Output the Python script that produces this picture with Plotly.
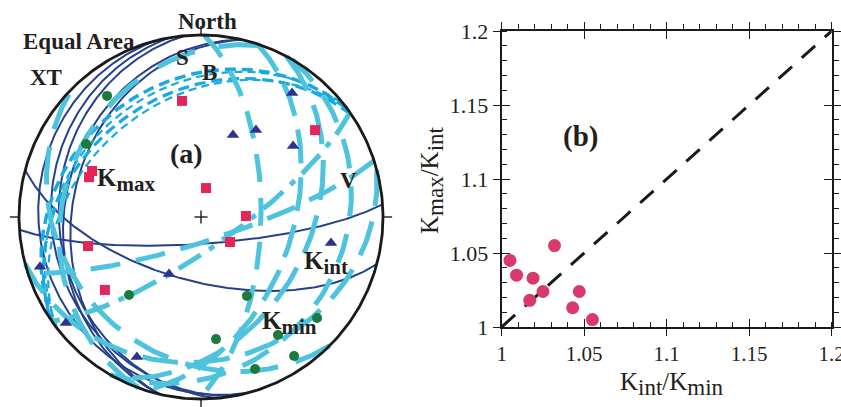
import numpy as np
import plotly.graph_objects as go

# ---------------- data ----------------
# (a) AMS principal axes, lower-hemisphere equal-area (trend, plunge in degrees)
kmax_trend = [350.7, 52.7, 292.9, 289.6, 9.8, 88.7, 130.8, 255.6, 232.8]
kmax_plunge = [35.6, 22.3, 35.3, 35.0, 76.9, 69.9, 72.9, 36.1, 34.1]
kint_trend = [36.3, 21.3, 32.3, 52.4, 101.3, 209.3, 252.8, 231.9, 204.6]
kint_plunge = [16.6, 50.0, 42.9, 36.3, 28.0, 60.6, 8.2, 6.3, 16.5]
kmin_trend = [322.2, 302.4, 222.7, 149.8, 131.0, 146.9, 173.0, 146.2, 160.4]
kmin_plunge = [16.9, 26.1, 41.3, 48.4, 16.6, 23.6, 32.9, 8.9, 12.4]

# planes (strike, dip; right-hand rule)
s_strike = [193, 193, 165, 170, 175, 86, 105]
s_dip = [26, 30, 12, 19, 23, 78, 61]
b_strike = [234, 232, 236, 233]
b_dip = [26, 29, 32, 35]
b_width = [3.5, 2.2, 3.2, 2.2]
v_strike = [1, 18, 28, 30, 72, 55, 135, 200, 75]
v_dip = [63, 48, 40, 22, 79, 76, 25, 25, 22]
v_dash = ["28px,16px", "34px,14px", "40px,16px", "30px,18px", "30px,16px",
          "26px,10px,6px,10px", "38px,18px", "40px,24px", "36px,16px"]

# (b) anisotropy ratios
lineation = [1.005, 1.009, 1.019, 1.017, 1.025, 1.032, 1.043, 1.047, 1.055]   # Kint/Kmin
foliation_y = [1.045, 1.035, 1.033, 1.018, 1.024, 1.055, 1.013, 1.024, 1.005]  # Kmax/Kint
ticks_b = [1, 1.05, 1.1, 1.15, 1.2]
cardinal = [0, 90, 180, 270]

# ---------------- helpers ----------------
def proj(trend, plunge):
    t = np.radians(np.asarray(trend, float))
    p = np.radians(np.asarray(plunge, float))
    e = np.cos(p) * np.sin(t)
    n = np.cos(p) * np.cos(t)
    d = np.sin(p)
    k = 1 / np.sqrt(1 + d)
    return e * k, n * k

def great_circle(strike, dip, n=240):
    s = np.radians(strike)
    dd = s + np.pi / 2
    dp = np.radians(dip)
    t = np.linspace(0, np.pi, n)
    e = np.cos(t) * np.sin(s) + np.sin(t) * np.sin(dd) * np.cos(dp)
    nn = np.cos(t) * np.cos(s) + np.sin(t) * np.cos(dd) * np.cos(dp)
    d = np.sin(t) * np.sin(dp)
    k = 1 / np.sqrt(1 + d)
    return e * k, nn * k

W, H = 841, 407
def P(px, py):
    return px / W, 1 - py / H

FONT = "Liberation Serif, Times New Roman, serif"
navy = "#25418B"
light = "#19A9E1"
cyan = "#4DC3DD"
red = "#E5245A"
tri = "#2E3192"
green = "#1B7B3E"
pink = "#D93A6C"
ink = "#1A1A1A"

fig = go.Figure()

# ---------------- (a) stereonet ----------------
for st, dp in zip(s_strike, s_dip):
    x, y = great_circle(st, dp)
    fig.add_trace(go.Scatter(x=x, y=y, mode="lines", line=dict(color=navy, width=2),
                             hoverinfo="skip", showlegend=False, xaxis="x", yaxis="y"))
for st, dp, w in zip(b_strike, b_dip, b_width):
    x, y = great_circle(st, dp)
    fig.add_trace(go.Scatter(x=x, y=y, mode="lines",
                             line=dict(color=light, width=w, dash="11px,6px" if w > 3 else "8px,5px"),
                             hoverinfo="skip", showlegend=False, xaxis="x", yaxis="y"))
for st, dp, ds in zip(v_strike, v_dip, v_dash):
    x, y = great_circle(st, dp)
    fig.add_trace(go.Scatter(x=x, y=y, mode="lines", line=dict(color=cyan, width=5, dash=ds),
                             hoverinfo="skip", showlegend=False, xaxis="x", yaxis="y"))

# primitive circle
az = np.linspace(0, 360, 361)
px_, py_ = proj(az, np.zeros_like(az))
fig.add_trace(go.Scatter(x=px_, y=py_, mode="lines", line=dict(color=ink, width=2.8),
                         hoverinfo="skip", showlegend=False, xaxis="x", yaxis="y"))
# cardinal ticks
for a in cardinal:
    ex, ny = proj([a], [0])
    fig.add_trace(go.Scatter(x=[ex[0], ex[0] * 1.05], y=[ny[0], ny[0] * 1.05], mode="lines",
                             line=dict(color=ink, width=1.4), hoverinfo="skip",
                             showlegend=False, xaxis="x", yaxis="y"))
# centre cross
fig.add_trace(go.Scatter(x=[-0.036, 0.036, None, 0, 0], y=[0, 0, None, -0.036, 0.036],
                         mode="lines", line=dict(color=ink, width=1.4), hoverinfo="skip",
                         showlegend=False, xaxis="x", yaxis="y"))

# principal axes
x, y = proj(kmin_trend, kmin_plunge)
fig.add_trace(go.Scatter(x=x, y=y, mode="markers",
                         marker=dict(symbol="circle", size=10, color=green),
                         showlegend=False, xaxis="x", yaxis="y"))
x, y = proj(kint_trend, kint_plunge)
fig.add_trace(go.Scatter(x=x, y=y, mode="markers",
                         marker=dict(symbol="triangle-up", size=11, color=tri),
                         showlegend=False, xaxis="x", yaxis="y"))
x, y = proj(kmax_trend, kmax_plunge)
fig.add_trace(go.Scatter(x=x, y=y, mode="markers",
                         marker=dict(symbol="square", size=10, color=red),
                         showlegend=False, xaxis="x", yaxis="y"))

# ---------------- (b) scatter ----------------
fig.add_trace(go.Scatter(x=[ticks_b[0], ticks_b[-1]], y=[ticks_b[0], ticks_b[-1]], mode="lines",
                         line=dict(color=ink, width=3, dash="18px,13px"),
                         hoverinfo="skip", showlegend=False, xaxis="x2", yaxis="y2"))
fig.add_trace(go.Scatter(x=lineation, y=foliation_y, mode="markers",
                         marker=dict(size=13, color=pink), showlegend=False,
                         xaxis="x2", yaxis="y2"))
# invisible traces so that the overlay (frame/tick) axes are drawn
for xa, ya in [("x3", "y2"), ("x4", "y2"), ("x5", "y2"), ("x2", "y3"), ("x2", "y4"), ("x2", "y5")]:
    fig.add_trace(go.Scatter(x=[lineation[0]], y=[foliation_y[0]], mode="markers",
                             marker=dict(size=1, opacity=0), showlegend=False,
                             hoverinfo="skip", xaxis=xa, yaxis=ya))

xd = [501.7 / W, 831.7 / W]
yd = [80 / H, 376 / H]
tfx = dict(family=FONT, size=21, color="#231F20")
tfy = dict(family=FONT, size=22, color="#231F20")
step = ticks_b[1] - ticks_b[0]
common = dict(range=[ticks_b[0], ticks_b[-1]], tickmode="linear", tick0=ticks_b[0], dtick=step,
              showgrid=False, zeroline=False, tickcolor=ink, tickwidth=1.4,
              ticklabeloverflow="allow", automargin=False)
minor = dict(tickmode="linear", dtick=step / 5, tick0=ticks_b[0], ticklen=5, tickwidth=1.2,
             tickcolor=ink, showgrid=False)

fig.update_layout(
    template="none",
    width=W, height=H, margin=dict(l=0, r=0, t=0, b=0, pad=0), autosize=False,
    paper_bgcolor="white", plot_bgcolor="white",
    xaxis=dict(domain=[0, 402 / W], range=[-201 / 182, 201 / 182], visible=False,
               fixedrange=True, automargin=False),
    yaxis=dict(domain=[0, 1], range=[-190 / 182, 217 / 182], visible=False,
               fixedrange=True, automargin=False),
    xaxis2=dict(domain=xd, anchor="y2", side="bottom", ticks="outside", ticklen=7,
                tickfont=tfx, showline=True, linecolor=ink,
                linewidth=2, minor=dict(ticks="inside", **minor), **common),
    xaxis4=dict(domain=xd, anchor="y2", overlaying="x2", side="bottom", ticks="inside",
                ticklen=8, showticklabels=False, showline=False, **common),
    xaxis3=dict(domain=xd, anchor="y2", overlaying="x2", side="top", ticks="outside",
                ticklen=7, showticklabels=False, showline=True, linecolor=ink, linewidth=2,
                minor=dict(ticks="outside", **minor), **common),
    xaxis5=dict(domain=xd, anchor="y2", overlaying="x2", side="top", ticks="inside",
                ticklen=8, showticklabels=False, showline=False, **common),
    yaxis2=dict(domain=yd, anchor="x2", side="left", ticks="outside", ticklen=7,
                tickfont=tfy, showline=True, linecolor=ink,
                linewidth=2, minor=dict(ticks="inside", **minor), **common),
    yaxis4=dict(domain=yd, anchor="x2", overlaying="y2", side="left", ticks="inside",
                ticklen=8, showticklabels=False, showline=False, **common),
    yaxis3=dict(domain=yd, anchor="x2", overlaying="y2", side="right", ticks="outside",
                ticklen=7, showticklabels=False, showline=True, linecolor=ink, linewidth=2,
                minor=dict(ticks="outside", **minor), **common),
    yaxis5=dict(domain=yd, anchor="x2", overlaying="y2", side="right", ticks="inside",
                ticklen=8, showticklabels=False, showline=False, **common),
)

def label(text, px, py, size=22, bold=True, xanchor="center", angle=0):
    x, y = P(px, py)
    fig.add_annotation(x=x, y=y, xref="paper", yref="paper", text=f"<b>{text}</b>" if bold else text,
                       showarrow=False, xanchor=xanchor, yanchor="middle", textangle=angle,
                       font=dict(family=FONT, size=size, color="#231F20"))

sub = lambda s, fs: f"<sub><span style='font-size:{fs}px'>{s}</span></sub>"

label("North", 207, 21, size=23)
label("Equal Area", 79, 41, size=23)
label("XT", 46, 77, size=23)
label("S", 182, 58, size=23)
label("B", 209, 72, size=23)
label("(a)", 186, 153, size=28)
label("V", 348, 180, size=23)
label("K" + sub("max", 21), 95, 180, size=25, xanchor="left")
label("K" + sub("int", 21), 302, 263, size=25, xanchor="left")
label("K" + sub("min", 21), 260, 323, size=25, xanchor="left")
label("(b)", 580, 137, size=29)
label("K" + sub("int", 23) + "/K" + sub("min", 23), 672, 384, size=25, bold=False)
label("K" + sub("max", 23) + "/K" + sub("int", 23), 432, 180, size=25, bold=False, angle=-90)

fig.write_html("out.html")
